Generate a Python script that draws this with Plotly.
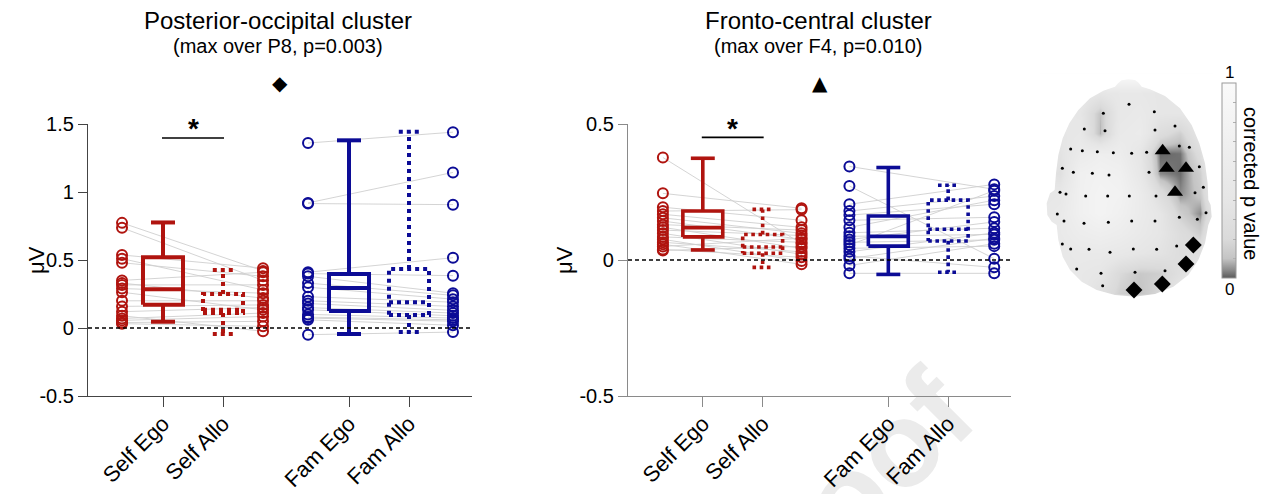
import plotly.graph_objects as go

W, H = 1270, 494
FONT = "Liberation Sans, Arial, Helvetica, sans-serif"
RED = "#b0140f"
BLUE = "#0c0c96"
GRAYLINE = "#cfcfcf"

conditions = ["Self Ego", "Self Allo", "Fam Ego", "Fam Allo"]

# ---------------- Posterior-occipital cluster (per subject, µV) ----------------
po_self_ego = [0.773, 0.737, 0.537, 0.510, 0.480, 0.350, 0.330, 0.317, 0.290, 0.263, 0.200, 0.159, 0.120, 0.090, 0.070, 0.056, 0.040, 0.032]
po_self_allo = [0.420, 0.350, 0.440, 0.280, 0.380, 0.410, 0.220, 0.317, 0.256, 0.134, 0.200, 0.170, 0.150, -0.024, 0.110, 0.085, 0.049, 0.012]
po_fam_ego = [1.360, 0.920, 0.915, 0.410, 0.400, 0.380, 0.330, 0.300, 0.230, 0.200, 0.180, 0.150, 0.134, 0.100, 0.080, 0.073, 0.060, -0.049]
po_fam_allo = [1.440, 1.144, 0.907, 0.517, 0.385, 0.256, 0.240, 0.212, 0.190, 0.159, 0.130, 0.110, 0.090, 0.073, 0.060, 0.050, 0.020, -0.030]
# box statistics [lower whisker, Q1, median, Q3, upper whisker]
po_box_self_ego = [0.046, 0.171, 0.285, 0.520, 0.776]
po_box_self_allo = [-0.044, 0.110, 0.135, 0.250, 0.426]
po_box_fam_ego = [-0.044, 0.125, 0.294, 0.397, 1.380]
po_box_fam_allo = [-0.030, 0.095, 0.190, 0.434, 1.443]

# ---------------- Fronto-central cluster ----------------
fc_self_ego = [0.377, 0.245, 0.194, 0.180, 0.168, 0.155, 0.143, 0.130, 0.120, 0.110, 0.098, 0.085, 0.076, 0.065, 0.058, 0.050, 0.039, 0.035]
fc_self_allo = [0.060, 0.190, 0.146, 0.185, 0.120, 0.098, 0.076, 0.110, 0.043, 0.090, 0.021, 0.065, -0.004, 0.030, -0.016, 0.080, 0.010, 0.050]
fc_fam_ego = [0.344, 0.272, 0.205, 0.180, 0.165, 0.146, 0.120, 0.100, 0.087, 0.075, 0.065, 0.055, 0.043, 0.030, 0.015, 0.005, -0.020, -0.049]
fc_fam_allo = [0.260, 0.005, 0.278, 0.235, 0.205, 0.157, 0.220, 0.117, 0.094, 0.140, 0.074, 0.255, 0.051, 0.100, -0.027, 0.080, 0.060, -0.049]
fc_box_self_ego = [0.037, 0.085, 0.119, 0.180, 0.374]
fc_box_self_allo = [-0.027, 0.025, 0.048, 0.094, 0.186]
fc_box_fam_ego = [-0.053, 0.051, 0.087, 0.162, 0.340]
fc_box_fam_allo = [-0.045, 0.070, 0.113, 0.220, 0.275]

# ---------------- Topography (corrected p values) ----------------
topo_x = [0, 60, 120, 180, 240, 300, 360, 420, 480, 540]
topo_y = [40, 100, 160, 220, 280, 340, 400, 460, 520, 580, 640, 700, 760]
topo_p = [
    [1, 1, 1, 1, 1, 1, 1, 1, 1, 1],
    [1, 0.50, 0.45, 0.40, 0.45, 0.45, 0.40, 0.45, 0.50, 1],
    [1, 0.45, 0.40, 0.10, 0.45, 0.50, 0.40, 0.40, 0.45, 1],
    [1, 0.40, 0.45, 0.08, 0.50, 0.55, 0.25, 0.15, 0.40, 1],
    [0.40, 0.35, 0.55, 0.65, 0.60, 0.40, 0.01, 0.02, 0.25, 1],
    [0.35, 0.30, 0.70, 0.75, 0.70, 0.45, 0.04, 0.015, 0.15, 0.60],
    [0.40, 0.45, 0.70, 0.80, 0.75, 0.55, 0.25, 0.04, 0.12, 0.60],
    [0.45, 0.50, 0.70, 0.80, 0.70, 0.55, 0.40, 0.15, 0.04, 0.50],
    [0.50, 0.50, 0.60, 0.65, 0.60, 0.50, 0.40, 0.25, 0.15, 0.60],
    [1, 0.45, 0.50, 0.50, 0.45, 0.40, 0.35, 0.25, 0.30, 1],
    [1, 0.45, 0.45, 0.40, 0.20, 0.12, 0.15, 0.30, 0.45, 1],
    [1, 0.50, 0.45, 0.30, 0.15, 0.10, 0.20, 0.45, 1, 1],
    [1, 1, 1, 1, 1, 1, 1, 1, 1, 1],
]
electrode_x = [267, 190, 343, 133, 195, 345, 405, 92, 127, 172, 220, 275, 320, 418, 448,
               67, 100, 157, 207, 327, 478, 60, 78, 137, 203, 268, 348, 465, 490,
               52, 72, 132, 205, 275, 345, 418, 472, 498, 67, 92, 147, 210, 280, 350, 410,
               110, 183, 285, 375, 188]
electrode_y = [133, 160, 155, 207, 212, 210, 198, 267, 272, 275, 278, 280, 277, 258, 262,
               325, 337, 340, 345, 337, 320, 397, 402, 408, 408, 408, 408, 398, 382,
               462, 483, 490, 487, 483, 483, 472, 478, 458, 552, 567, 568, 577, 567, 568, 558,
               627, 640, 637, 632, 677]
fc_cluster_x = [368, 380, 438, 405]
fc_cluster_y = [272, 325, 325, 397]
po_cluster_x = [460, 438, 367, 282]
po_cluster_y = [555, 612, 672, 690]
head_outline_x = [265, 245, 234, 225, 190, 150, 115, 88, 68, 55, 48, 44, 30, 20, 22, 35, 50, 55, 68, 90,
                  125, 170, 225, 285, 345, 400, 445, 475, 495, 505, 515, 512, 505, 503, 495, 478, 455,
                  420, 375, 330, 305, 296, 285, 265]
head_outline_y = [58, 61, 70, 80, 92, 115, 150, 190, 235, 285, 340, 390, 400, 430, 465, 485, 495, 540, 590, 630,
                  665, 690, 705, 710, 702, 680, 645, 600, 550, 495, 470, 435, 420, 370, 310, 250, 195,
                  145, 108, 88, 80, 68, 60, 58]

# ---------------- layout geometry (pixels -> paper) ----------------
BOX_X = [1, 2, 4.1, 5.1]
PTS_X_PO = [0.317, 2.667, 3.417, 5.833]
PTS_X_FC = [0.333, 2.65, 3.45, 5.87]
BOX_W = 0.667
CAP_SOLID = 0.40
CAP_DOT = 0.34


def px(x):
    return x / W


def py(y):
    return 1 - y / H


def box_path(xc, stats, w, capw):
    lo, q1, med, q3, hi = stats
    a, b = xc - w / 2, xc + w / 2
    xs = [a, b, b, a, a, None, a, b, None, xc, xc, None, xc - capw / 2, xc + capw / 2, None,
          xc, xc, None, xc - capw / 2, xc + capw / 2]
    ys = [q1, q1, q3, q3, q1, None, med, med, None, q3, hi, None, hi, hi, None,
          q1, lo, None, lo, lo]
    return xs, ys


fig = go.Figure()


def add_panel(xa, ya, ego_s, allo_s, ego_f, allo_f, boxes, pts_x, lw):
    lx, ly = [], []
    for a, b in zip(ego_s, allo_s):
        lx += [pts_x[0], pts_x[1], None]
        ly += [a, b, None]
    for a, b in zip(ego_f, allo_f):
        lx += [pts_x[2], pts_x[3], None]
        ly += [a, b, None]
    fig.add_trace(go.Scatter(x=lx, y=ly, mode="lines", xaxis=xa, yaxis=ya,
                             line=dict(color=GRAYLINE, width=0.9), hoverinfo="skip", showlegend=False))
    colors = [RED, RED, BLUE, BLUE]
    dashes = ["solid", "dot", "solid", "dot"]
    for i in range(4):
        xs, ys = box_path(BOX_X[i], boxes[i], BOX_W, CAP_SOLID if dashes[i] == "solid" else CAP_DOT)
        fig.add_trace(go.Scatter(x=xs, y=ys, mode="lines", xaxis=xa, yaxis=ya,
                                 line=dict(color=colors[i], width=lw, dash=dashes[i]),
                                 hoverinfo="skip", showlegend=False))
    for i, vals in enumerate([ego_s, allo_s, ego_f, allo_f]):
        fig.add_trace(go.Scatter(x=[pts_x[i]] * len(vals), y=vals, mode="markers", xaxis=xa, yaxis=ya,
                                 marker=dict(symbol="circle-open", size=10, color=colors[i],
                                             line=dict(width=2, color=colors[i])),
                                 showlegend=False, name=conditions[i]))


add_panel("x", "y", po_self_ego, po_self_allo, po_fam_ego, po_fam_allo,
          [po_box_self_ego, po_box_self_allo, po_box_fam_ego, po_box_fam_allo], PTS_X_PO, 4)
add_panel("x2", "y2", fc_self_ego, fc_self_allo, fc_fam_ego, fc_fam_allo,
          [fc_box_self_ego, fc_box_self_allo, fc_box_fam_ego, fc_box_fam_allo], PTS_X_FC, 3.6)

# ---------------- topography ----------------
fig.add_trace(go.Heatmap(
    x=topo_x, y=topo_y, z=topo_p, zsmooth="best", zmin=0, zmax=1, xaxis="x3", yaxis="y3",
    colorscale=[[0, "#5a5a5a"], [0.04, "#8a8a8a"], [0.1, "#c4c4c4"], [0.2, "#dadada"],
                [0.4, "#e6e6e6"], [0.7, "#f0f0f0"], [1, "#fafafa"]],
    hoverinfo="skip",
    colorbar=dict(x=px(1222), xanchor="left", y=py(180.5), yanchor="middle", len=195 / H, lenmode="fraction",
                  thickness=14, xpad=0, ypad=0, outlinewidth=1, outlinecolor="#9a9a9a",
                  ticks="inside", ticklen=3, tickcolor="#b0b0b0",
                  tickvals=[0, 0.1, 0.2, 0.3, 0.4, 0.5, 0.6, 0.7, 0.8, 0.9, 1], showticklabels=False),
))
# white mask outside the head (outer rectangle + head outline joined through a slit)
mx = [265, 560, 560, -40, -40, 265] + head_outline_x + [265]
my = [0, 0, 780, 780, 0, 0] + head_outline_y + [0]
fig.add_trace(go.Scatter(x=mx, y=my, mode="lines", fill="toself", fillcolor="white",
                         line=dict(width=0, color="white"), xaxis="x3", yaxis="y3",
                         hoverinfo="skip", showlegend=False))
fig.add_trace(go.Scatter(x=electrode_x, y=electrode_y, mode="markers", xaxis="x3", yaxis="y3",
                         marker=dict(size=3, color="black"), hoverinfo="skip", showlegend=False))
fig.add_trace(go.Scatter(x=fc_cluster_x, y=fc_cluster_y, mode="markers", xaxis="x3", yaxis="y3",
                         marker=dict(symbol="triangle-up", size=14, color="black"),
                         hoverinfo="skip", showlegend=False))
fig.add_trace(go.Scatter(x=po_cluster_x, y=po_cluster_y, mode="markers", xaxis="x3", yaxis="y3",
                         marker=dict(symbol="diamond", size=13, color="black"),
                         hoverinfo="skip", showlegend=False))

# ---------------- axes ----------------
tickfont = dict(family=FONT, size=20, color="black")
common_x = dict(range=[-0.25, 6.15], showline=True, linewidth=1.2, ticks="outside", ticklen=10,
                tickwidth=1.2, tickvals=BOX_X, ticktext=conditions, tickangle=-45, ticklabelstandoff=-5,
                tickfont=dict(family=FONT, size=22, color="black"), showgrid=False, zeroline=False,
                fixedrange=True, automargin=False)
common_y = dict(showline=True, linewidth=1.2, ticks="outside", ticklen=9, tickwidth=1.2,
                tickfont=tickfont, showgrid=False, zeroline=False, fixedrange=True, automargin=False)

fig.update_layout(
    template="none",
    width=W, height=H, margin=dict(l=0, r=0, t=0, b=0, pad=0), autosize=False,
    paper_bgcolor="white", plot_bgcolor="rgba(0,0,0,0)",
    font=dict(family=FONT, color="black"),
    showlegend=False,
    xaxis=dict(domain=[px(88), px(472)], anchor="y", linecolor="#444", tickcolor="#444", **common_x),
    yaxis=dict(domain=[py(396), py(124)], anchor="x", range=[-0.5, 1.5], linecolor="#444", tickcolor="#444",
               tickvals=[-0.5, 0, 0.5, 1, 1.5], ticktext=["-0.5", "0", "0.5", "1", "1.5"], **common_y),
    xaxis2=dict(domain=[px(628), px(1011)], anchor="y2", linecolor="#8a8a8a", tickcolor="#8a8a8a", **common_x),
    yaxis2=dict(domain=[py(396), py(124)], anchor="x2", range=[-0.5, 0.5], linecolor="#8a8a8a",
                tickcolor="#8a8a8a", tickvals=[-0.5, 0, 0.5], ticktext=["-0.5", "0", "0.5"], **common_y),
    xaxis3=dict(domain=[px(1040), px(1213)], anchor="y3", range=[0, 519], visible=False, fixedrange=True,
                automargin=False),
    yaxis3=dict(domain=[py(300), py(73.33)], anchor="x3", range=[720, 40], visible=False, fixedrange=True,
                automargin=False),
)

shapes = []
for xr, yr in [("x domain", "y"), ("x2 domain", "y2")]:
    shapes.append(dict(type="line", xref=xr, yref=yr, x0=0, x1=1, y0=0, y1=0,
                       line=dict(color="black", width=1.6, dash="4px,3px"), layer="above"))
shapes.append(dict(type="line", xref="x", yref="y", x0=0.983, x1=2.017, y0=1.397, y1=1.397,
                   line=dict(color="black", width=1.6)))
shapes.append(dict(type="line", xref="x2", yref="y2", x0=0.983, x1=2.017, y0=0.451, y1=0.451,
                   line=dict(color="black", width=1.6)))
# faint "Proof" watermark behind everything
shapes.append(dict(type="line", xref="paper", yref="paper", x0=px(733), y0=py(595), x1=px(933), y1=py(395),
                   line=dict(color="rgba(0,0,0,0)", width=1), layer="below",
                   label=dict(text="Proof", textposition="middle", yanchor="middle",
                              font=dict(family="Liberation Sans, Arial", size=120, color="#ebebeb",
                                        weight="bold"))))
fig.update_layout(shapes=shapes)

ann = []
ann.append(dict(text="*", x=1.5, y=1.5, xref="x", yref="y", showarrow=False, yshift=-5,
                font=dict(family=FONT, size=28, color="black", weight="bold")))
ann.append(dict(text="*", x=1.5, y=0.5, xref="x2", yref="y2", showarrow=False, yshift=-5,
                font=dict(family=FONT, size=28, color="black", weight="bold")))
for xc, t1, t2, sym in [(278, "Posterior-occipital cluster", "(max over P8, p=0.003)", "\u25C6"),
                        (818, "Fronto-central cluster", "(max over F4, p=0.010)", "\u25B2")]:
    ann.append(dict(text=t1, x=px(xc), y=py(20), xref="paper", yref="paper", showarrow=False,
                    xanchor="center", yanchor="middle", font=dict(family=FONT, size=24)))
    ann.append(dict(text=t2, x=px(xc), y=py(46), xref="paper", yref="paper", showarrow=False,
                    xanchor="center", yanchor="middle", font=dict(family=FONT, size=20)))
    ann.append(dict(text=sym, x=px(xc + 2), y=py(83), xref="paper", yref="paper", showarrow=False,
                    xanchor="center", yanchor="middle", font=dict(family="DejaVu Sans", size=20)))
for xc in [36, 564]:
    ann.append(dict(text="\u03bcV", x=px(xc), y=py(260), xref="paper", yref="paper", showarrow=False,
                    textangle=-90, xanchor="center", yanchor="middle", font=dict(family=FONT, size=22)))
ann.append(dict(text="1", x=px(1229), y=py(72), xref="paper", yref="paper", showarrow=False,
                xanchor="center", yanchor="middle", font=dict(family=FONT, size=17)))
ann.append(dict(text="0", x=px(1229), y=py(289), xref="paper", yref="paper", showarrow=False,
                xanchor="center", yanchor="middle", font=dict(family=FONT, size=17)))
ann.append(dict(text="corrected p value", x=px(1251), y=py(183), xref="paper", yref="paper", showarrow=False,
                textangle=90, xanchor="center", yanchor="middle", font=dict(family=FONT, size=20)))
fig.update_layout(annotations=ann)

fig.write_html("out.html", config={"displayModeBar": False},
               post_script="document.body.style.margin='0';")
